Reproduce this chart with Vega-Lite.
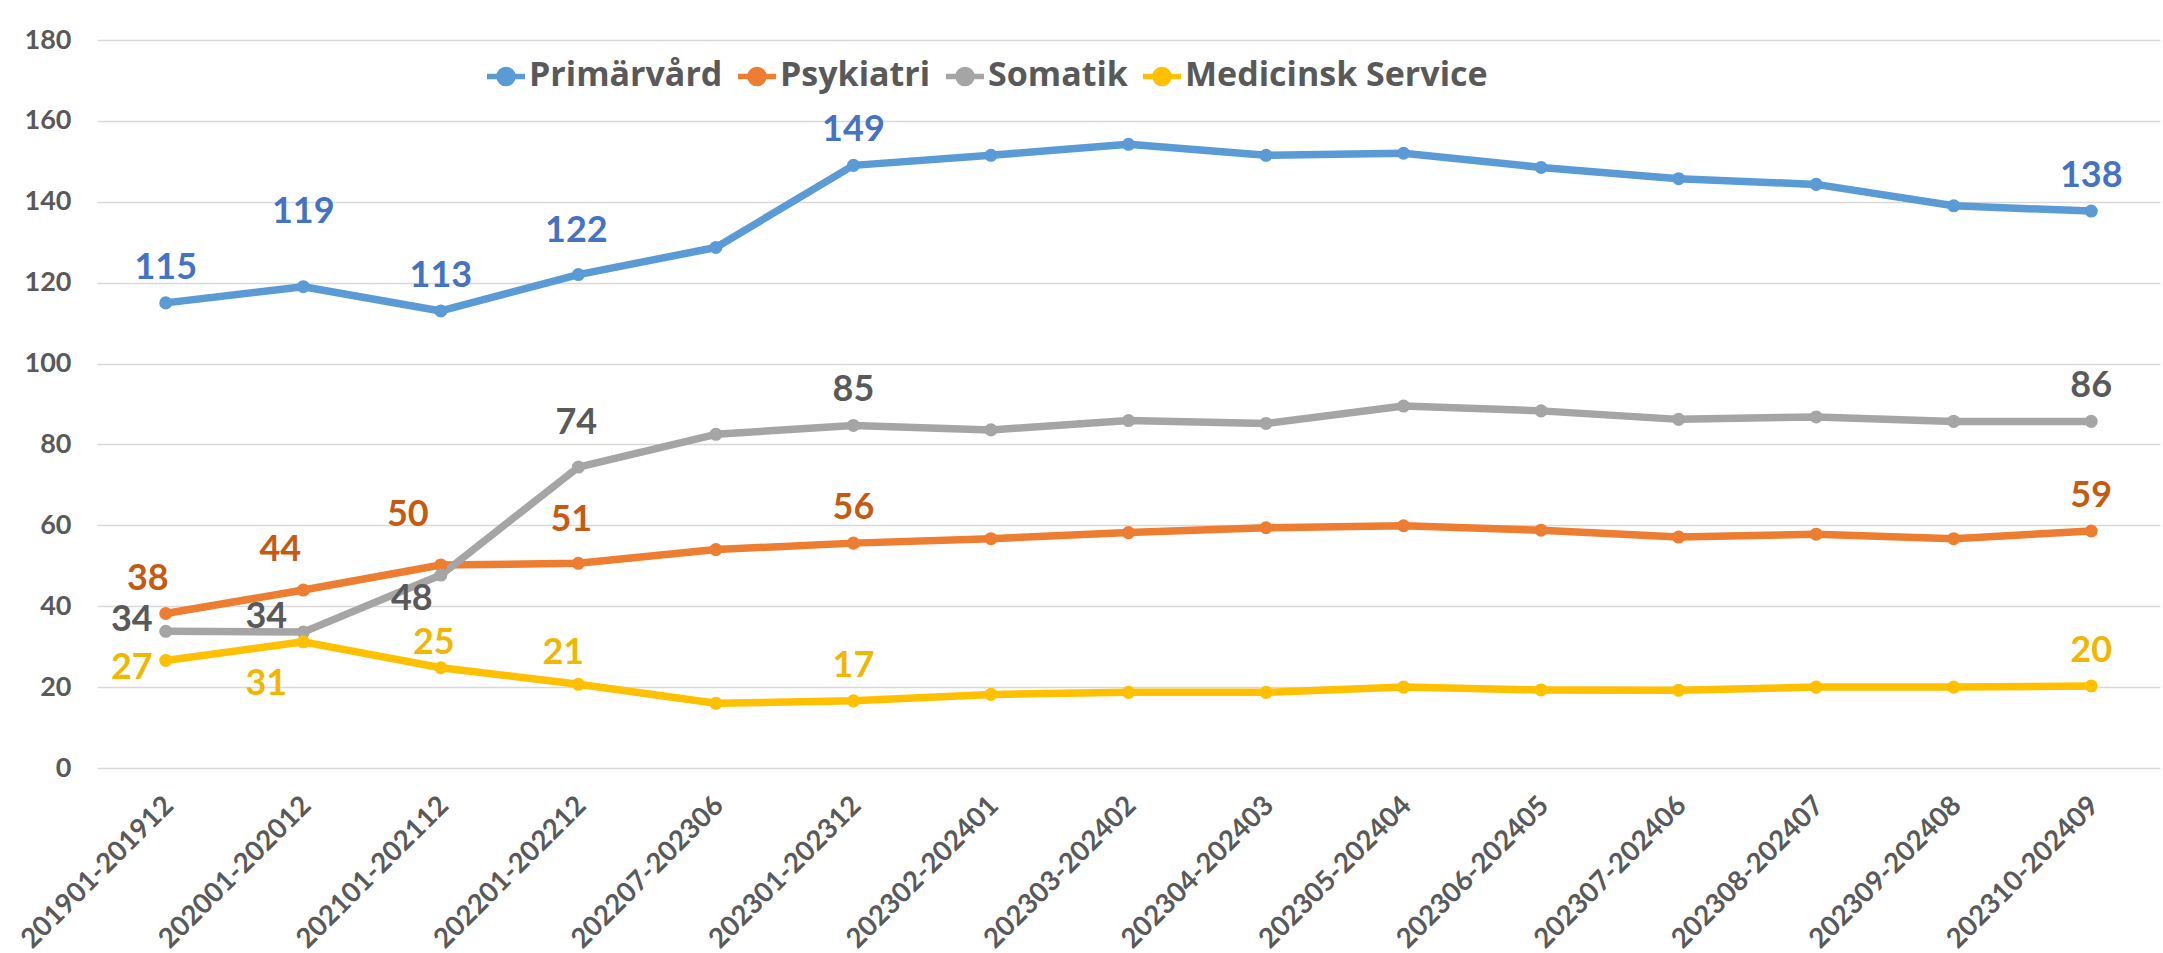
{
  "$schema": "https://vega.github.io/schema/vega-lite/v6.json",
  "autosize": {"type": "none"},
  "padding": {"left": 97, "top": 40, "right": 3, "bottom": 185},
  "width": 2063,
  "height": 728,
  "background": "white",
  "config": {"view": {"stroke": null}, "font": "Lato"},
  "data": {"values": [
    {"period": "201901-201912", "series": "Primärvård", "value": 115},
    {"period": "202001-202012", "series": "Primärvård", "value": 119},
    {"period": "202101-202112", "series": "Primärvård", "value": 113},
    {"period": "202201-202212", "series": "Primärvård", "value": 122},
    {"period": "202207-202306", "series": "Primärvård", "value": 128.7},
    {"period": "202301-202312", "series": "Primärvård", "value": 149},
    {"period": "202302-202401", "series": "Primärvård", "value": 151.5},
    {"period": "202303-202402", "series": "Primärvård", "value": 154.2},
    {"period": "202304-202403", "series": "Primärvård", "value": 151.5},
    {"period": "202305-202404", "series": "Primärvård", "value": 152},
    {"period": "202306-202405", "series": "Primärvård", "value": 148.5},
    {"period": "202307-202406", "series": "Primärvård", "value": 145.7},
    {"period": "202308-202407", "series": "Primärvård", "value": 144.3},
    {"period": "202309-202408", "series": "Primärvård", "value": 139},
    {"period": "202310-202409", "series": "Primärvård", "value": 137.7},
    {"period": "201901-201912", "series": "Psykiatri", "value": 38.2},
    {"period": "202001-202012", "series": "Psykiatri", "value": 44},
    {"period": "202101-202112", "series": "Psykiatri", "value": 50.2},
    {"period": "202201-202212", "series": "Psykiatri", "value": 50.6},
    {"period": "202207-202306", "series": "Psykiatri", "value": 54},
    {"period": "202301-202312", "series": "Psykiatri", "value": 55.6},
    {"period": "202302-202401", "series": "Psykiatri", "value": 56.7},
    {"period": "202303-202402", "series": "Psykiatri", "value": 58.2},
    {"period": "202304-202403", "series": "Psykiatri", "value": 59.4},
    {"period": "202305-202404", "series": "Psykiatri", "value": 59.9},
    {"period": "202306-202405", "series": "Psykiatri", "value": 58.8},
    {"period": "202307-202406", "series": "Psykiatri", "value": 57.1},
    {"period": "202308-202407", "series": "Psykiatri", "value": 57.8},
    {"period": "202309-202408", "series": "Psykiatri", "value": 56.7},
    {"period": "202310-202409", "series": "Psykiatri", "value": 58.6},
    {"period": "201901-201912", "series": "Somatik", "value": 33.8},
    {"period": "202001-202012", "series": "Somatik", "value": 33.6},
    {"period": "202101-202112", "series": "Somatik", "value": 47.7},
    {"period": "202201-202212", "series": "Somatik", "value": 74.4},
    {"period": "202207-202306", "series": "Somatik", "value": 82.5},
    {"period": "202301-202312", "series": "Somatik", "value": 84.7},
    {"period": "202302-202401", "series": "Somatik", "value": 83.6},
    {"period": "202303-202402", "series": "Somatik", "value": 85.9},
    {"period": "202304-202403", "series": "Somatik", "value": 85.2},
    {"period": "202305-202404", "series": "Somatik", "value": 89.5},
    {"period": "202306-202405", "series": "Somatik", "value": 88.3},
    {"period": "202307-202406", "series": "Somatik", "value": 86.2},
    {"period": "202308-202407", "series": "Somatik", "value": 86.8},
    {"period": "202309-202408", "series": "Somatik", "value": 85.7},
    {"period": "202310-202409", "series": "Somatik", "value": 85.7},
    {"period": "201901-201912", "series": "Medicinsk Service", "value": 26.6},
    {"period": "202001-202012", "series": "Medicinsk Service", "value": 31.2},
    {"period": "202101-202112", "series": "Medicinsk Service", "value": 24.8},
    {"period": "202201-202212", "series": "Medicinsk Service", "value": 20.7},
    {"period": "202207-202306", "series": "Medicinsk Service", "value": 16},
    {"period": "202301-202312", "series": "Medicinsk Service", "value": 16.6},
    {"period": "202302-202401", "series": "Medicinsk Service", "value": 18.2},
    {"period": "202303-202402", "series": "Medicinsk Service", "value": 18.7},
    {"period": "202304-202403", "series": "Medicinsk Service", "value": 18.7},
    {"period": "202305-202404", "series": "Medicinsk Service", "value": 20},
    {"period": "202306-202405", "series": "Medicinsk Service", "value": 19.3},
    {"period": "202307-202406", "series": "Medicinsk Service", "value": 19.2},
    {"period": "202308-202407", "series": "Medicinsk Service", "value": 20},
    {"period": "202309-202408", "series": "Medicinsk Service", "value": 20},
    {"period": "202310-202409", "series": "Medicinsk Service", "value": 20.3}
  ]},
  "encoding": {
    "x": {
      "field": "period", "type": "ordinal", "sort": null,
      "scale": {"type": "point", "padding": 0.5},
      "axis": {"title": null, "labelAngle": -45, "labelAlign": "right", "labelBaseline": "middle",
               "labelPadding": 33, "labelOffset": 3, "labelFontSize": 27.5, "labelFontWeight": "bold", "labelColor": "#595959",
               "labelFont": "Lato", "labelLimit": 0, "ticks": false, "domain": false, "grid": false, "labelOverlap": false}
    },
    "y": {
      "field": "value", "type": "quantitative",
      "scale": {"domain": [0, 180], "nice": false, "zero": true},
      "axis": {"title": null, "values": [0, 20, 40, 60, 80, 100, 120, 140, 160, 180],
               "labelFontSize": 27, "labelFontWeight": "bold", "labelColor": "#595959", "labelFont": "Lato",
               "labelPadding": 26, "ticks": false, "domain": false, "gridColor": "#D9D9D9", "gridWidth": 1.5}
    }
  },
  "layer": [
    {
      "mark": {"type": "line", "strokeWidth": 7.5, "strokeJoin": "round", "strokeCap": "round"},
      "encoding": {
        "color": {"field": "series", "type": "nominal",
          "scale": {"domain": ["Primärvård", "Psykiatri", "Somatik", "Medicinsk Service"],
                    "range": ["#5B9BD5", "#ED7D31", "#A5A5A5", "#FFC000"]},
          "legend": {"orient": "none", "legendX": 387, "legendY": 14, "direction": "horizontal", "title": null,
                     "labelFontSize": 34, "labelFontWeight": "bold", "labelColor": "#595959", "labelFont": "Open Sans", "labelLimit": 0,
                     "symbolType": "M-1,0L1,0M-0.37,0A0.37,0.37,0,1,1,0.37,0A0.37,0.37,0,1,1,-0.37,0Z",
                     "symbolSize": 1444, "symbolStrokeWidth": 5.5, "labelOffset": 1, "columnPadding": 4}},
        "order": {"field": "period"}
      }
    },
    {
      "mark": {"type": "point", "filled": true, "size": 170, "opacity": 1, "shape": "circle"},
      "encoding": {
        "color": {"field": "series", "type": "nominal",
          "legend": {"orient": "none", "legendX": 387, "legendY": 14, "direction": "horizontal", "title": null,
                     "labelFontSize": 34, "labelFontWeight": "bold", "labelColor": "#595959", "labelFont": "Open Sans", "labelLimit": 0,
                     "symbolType": "M-1,0L1,0M-0.37,0A0.37,0.37,0,1,1,0.37,0A0.37,0.37,0,1,1,-0.37,0Z",
                     "symbolSize": 1444, "symbolStrokeWidth": 5.5, "labelOffset": 1, "columnPadding": 4}}
      }
    },
    {
      "transform": [{"filter": "(datum.series === 'Primärvård' && indexof(['201901-201912','202101-202112','202301-202312','202310-202409'], datum.period) >= 0) || (datum.series !== 'Primärvård' && indexof(['202301-202312','202310-202409'], datum.period) >= 0)"}],
      "mark": {"type": "text", "dx": 0, "dy": -35, "fontSize": 36, "fontWeight": "bold", "font": "Lato"},
      "encoding": {"text": {"field": "value", "type": "quantitative", "format": ".0f"},
        "fill": {"field": "series", "type": "nominal", "legend": null,
          "scale": {"domain": ["Primärvård", "Psykiatri", "Somatik", "Medicinsk Service"], "range": ["#4472C4", "#C55A11", "#595959", "#F2B600"]}}}
    },
    {
      "transform": [{"filter": "datum.series === 'Primärvård' && datum.period === '202001-202012'"}],
      "mark": {"type": "text", "dx": 0, "dy": -75, "fontSize": 36, "fontWeight": "bold", "font": "Lato"},
      "encoding": {"text": {"field": "value", "type": "quantitative", "format": ".0f"},
        "fill": {"field": "series", "type": "nominal", "legend": null}}
    },
    {
      "transform": [{"filter": "(datum.series === 'Primärvård' || datum.series === 'Somatik') && datum.period === '202201-202212'"}],
      "mark": {"type": "text", "dx": -2, "dy": -44, "fontSize": 36, "fontWeight": "bold", "font": "Lato"},
      "encoding": {"text": {"field": "value", "type": "quantitative", "format": ".0f"},
        "fill": {"field": "series", "type": "nominal", "legend": null}}
    },
    {
      "transform": [{"filter": "datum.series === 'Psykiatri' && datum.period === '201901-201912'"}],
      "mark": {"type": "text", "dx": -18, "dy": -35, "fontSize": 36, "fontWeight": "bold", "font": "Lato"},
      "encoding": {"text": {"field": "value", "type": "quantitative", "format": ".0f"},
        "fill": {"field": "series", "type": "nominal", "legend": null}}
    },
    {
      "transform": [{"filter": "datum.series === 'Psykiatri' && datum.period === '202001-202012'"}],
      "mark": {"type": "text", "dx": -23, "dy": -40, "fontSize": 36, "fontWeight": "bold", "font": "Lato"},
      "encoding": {"text": {"field": "value", "type": "quantitative", "format": ".0f"},
        "fill": {"field": "series", "type": "nominal", "legend": null}}
    },
    {
      "transform": [{"filter": "datum.series === 'Psykiatri' && datum.period === '202101-202112'"}],
      "mark": {"type": "text", "dx": -33, "dy": -50, "fontSize": 36, "fontWeight": "bold", "font": "Lato"},
      "encoding": {"text": {"field": "value", "type": "quantitative", "format": ".0f"},
        "fill": {"field": "series", "type": "nominal", "legend": null}}
    },
    {
      "transform": [{"filter": "datum.series === 'Psykiatri' && datum.period === '202201-202212'"}],
      "mark": {"type": "text", "dx": -7, "dy": -43, "fontSize": 36, "fontWeight": "bold", "font": "Lato"},
      "encoding": {"text": {"field": "value", "type": "quantitative", "format": ".0f"},
        "fill": {"field": "series", "type": "nominal", "legend": null}}
    },
    {
      "transform": [{"filter": "datum.series === 'Somatik' && datum.period === '201901-201912'"}],
      "mark": {"type": "text", "dx": -34, "dy": -11, "fontSize": 36, "fontWeight": "bold", "font": "Lato"},
      "encoding": {"text": {"field": "value", "type": "quantitative", "format": ".0f"},
        "fill": {"field": "series", "type": "nominal", "legend": null}}
    },
    {
      "transform": [{"filter": "datum.series === 'Medicinsk Service' && datum.period === '201901-201912'"}],
      "mark": {"type": "text", "dx": -34, "dy": 8, "fontSize": 36, "fontWeight": "bold", "font": "Lato"},
      "encoding": {"text": {"field": "value", "type": "quantitative", "format": ".0f"},
        "fill": {"field": "series", "type": "nominal", "legend": null}}
    },
    {
      "transform": [{"filter": "datum.series === 'Somatik' && datum.period === '202001-202012'"}],
      "mark": {"type": "text", "dx": -37, "dy": -15, "fontSize": 36, "fontWeight": "bold", "font": "Lato"},
      "encoding": {"text": {"field": "value", "type": "quantitative", "format": ".0f"},
        "fill": {"field": "series", "type": "nominal", "legend": null}}
    },
    {
      "transform": [{"filter": "datum.series === 'Medicinsk Service' && datum.period === '202001-202012'"}],
      "mark": {"type": "text", "dx": -37, "dy": 42, "fontSize": 36, "fontWeight": "bold", "font": "Lato"},
      "encoding": {"text": {"field": "value", "type": "quantitative", "format": ".0f"},
        "fill": {"field": "series", "type": "nominal", "legend": null}}
    },
    {
      "transform": [{"filter": "datum.series === 'Somatik' && datum.period === '202101-202112'"}],
      "mark": {"type": "text", "dx": -29, "dy": 24, "fontSize": 36, "fontWeight": "bold", "font": "Lato"},
      "encoding": {"text": {"field": "value", "type": "quantitative", "format": ".0f"},
        "fill": {"field": "series", "type": "nominal", "legend": null}}
    },
    {
      "transform": [{"filter": "datum.series === 'Medicinsk Service' && datum.period === '202101-202112'"}],
      "mark": {"type": "text", "dx": -7, "dy": -25, "fontSize": 36, "fontWeight": "bold", "font": "Lato"},
      "encoding": {"text": {"field": "value", "type": "quantitative", "format": ".0f"},
        "fill": {"field": "series", "type": "nominal", "legend": null}}
    },
    {
      "transform": [{"filter": "datum.series === 'Medicinsk Service' && datum.period === '202201-202212'"}],
      "mark": {"type": "text", "dx": -15, "dy": -31, "fontSize": 36, "fontWeight": "bold", "font": "Lato"},
      "encoding": {"text": {"field": "value", "type": "quantitative", "format": ".0f"},
        "fill": {"field": "series", "type": "nominal", "legend": null}}
    }
  ]
}
